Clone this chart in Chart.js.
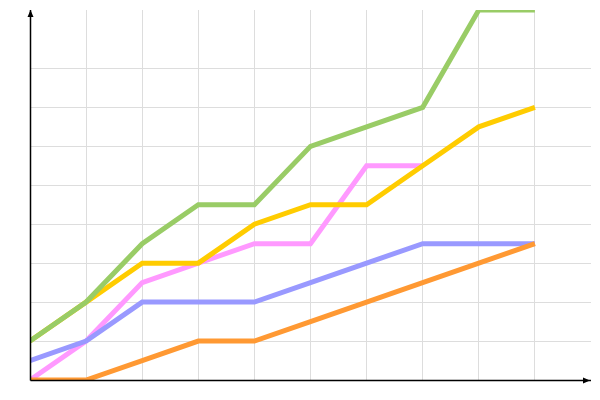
<!DOCTYPE html>
<html>
<head>
<meta charset="utf-8">
<script src="https://cdn.jsdelivr.net/npm/chart.js@4"></script>
<style>
  html, body { margin: 0; padding: 0; background: #ffffff; }
  #wrap { width: 600px; height: 400px; }
</style>
</head>
<body>
<div id="wrap"><canvas id="chart"></canvas></div>
<script>
// x positions of the points (one per grid column)
const steps = [0, 1, 2, 3, 4, 5, 6, 7, 8, 9];

// series values (grid unit = 1)
const greenValues  = [1, 2, 3.5, 4.5, 4.5, 6, 6.5, 7, 9.5, 9.5];
const yellowValues = [1, 2, 3, 3, 4, 4.5, 4.5, 5.5, 6.5, 7];
const orangeValues = [0, 0, 0.5, 1, 1, 1.5, 2, 2.5, 3, 3.5];
const blueValues   = [0.5, 1, 2, 2, 2, 2.5, 3, 3.5, 3.5, 3.5];
const pinkValues   = [0, 1, 2.5, 3, 3.5, 3.5, 5.5, 5.5, null, null];

// grid lines shown at these values only
const xGridTicks = [0, 1, 2, 3, 4, 5, 6, 7, 8, 9];
const yGridTicks = [0, 1, 2, 3, 4, 5, 6, 7, 8];

function toPoints(values) {
    return steps.map((x, i) => ({ x: x, y: values[i] }));
}

function line(values, color) {
    return {
        data: toPoints(values),
        borderColor: color,
        backgroundColor: color,
        borderWidth: 5,
        pointRadius: 0,
        tension: 0,
        fill: false,
        spanGaps: false
    };
}

// black axes with small arrow heads
const arrowAxes = {
    id: 'arrowAxes',
    afterDatasetsDraw(chart) {
        const { ctx, chartArea } = chart;
        const x0 = Math.round(chartArea.left) + 0.5;
        const y0 = Math.round(chartArea.bottom) + 0.5;
        ctx.save();
        ctx.strokeStyle = '#000000';
        ctx.fillStyle = '#000000';
        ctx.lineWidth = 1.5;

        ctx.beginPath();
        ctx.moveTo(x0, y0);
        ctx.lineTo(x0, chartArea.top);
        ctx.moveTo(x0, y0);
        ctx.lineTo(chartArea.right, y0);
        ctx.stroke();

        // up arrow
        ctx.beginPath();
        ctx.moveTo(x0, chartArea.top);
        ctx.lineTo(x0 - 3, chartArea.top + 7);
        ctx.lineTo(x0 + 3, chartArea.top + 7);
        ctx.closePath();
        ctx.fill();

        // right arrow
        ctx.beginPath();
        ctx.moveTo(chartArea.right - 1, y0);
        ctx.lineTo(chartArea.right - 8, y0 - 3);
        ctx.lineTo(chartArea.right - 8, y0 + 3);
        ctx.closePath();
        ctx.fill();
        ctx.restore();
    }
};

new Chart(document.getElementById('chart'), {
    type: 'line',
    data: {
        datasets: [
            line(greenValues, '#99cc66'),
            line(yellowValues, '#ffcc00'),
            line(orangeValues, '#ff9933'),
            line(blueValues, '#9999ff'),
            line(pinkValues, '#ff99ff')
        ]
    },
    options: {
        responsive: true,
        maintainAspectRatio: false,
        animation: false,
        layout: {
            padding: { left: 30, top: 10, right: 9, bottom: 20 }
        },
        plugins: {
            legend: { display: false },
            tooltip: { enabled: false }
        },
        scales: {
            x: {
                type: 'linear',
                min: 0,
                max: 10,
                afterBuildTicks: (scale) => {
                    scale.ticks = xGridTicks.map(v => ({ value: v }));
                },
                ticks: { display: false },
                border: { display: false },
                grid: { color: '#dddddd', lineWidth: 1, drawTicks: false }
            },
            y: {
                type: 'linear',
                min: 0,
                max: 9.5,
                afterBuildTicks: (scale) => {
                    scale.ticks = yGridTicks.map(v => ({ value: v }));
                },
                ticks: { display: false },
                border: { display: false },
                grid: { color: '#dddddd', lineWidth: 1, drawTicks: false }
            }
        }
    },
    plugins: [arrowAxes]
});
</script>
</body>
</html>
